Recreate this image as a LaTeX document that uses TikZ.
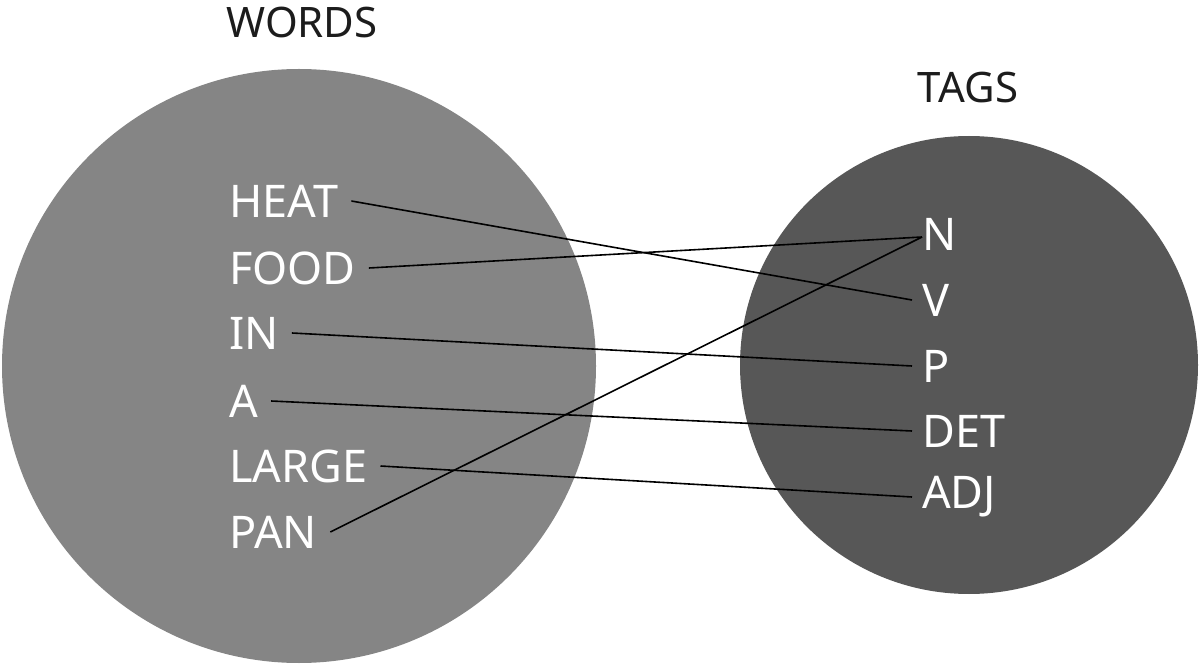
\documentclass[tikz,border=0pt]{standalone}
\usepackage{fontspec}
\setmainfont{Noto Sans}
\definecolor{leftgray}{HTML}{858585}
\definecolor{rightgray}{HTML}{575757}
\definecolor{titleink}{HTML}{1C1C1C}
\begin{document}
\begin{tikzpicture}[x=1pt,y=-1pt,
  title/.style={font=\fontsize{42}{48}\selectfont, text=titleink, inner sep=0pt, anchor=center},
  word/.style={font=\fontsize{45}{50}\selectfont, text=white, inner ysep=0pt, inner xsep=13pt, anchor=west},
  tag/.style={font=\fontsize{45}{50}\selectfont, text=white, inner ysep=0pt, inner xsep=10pt, anchor=west},
  link/.style={draw=black, line width=1.6pt}]
\useasboundingbox (0,0) rectangle (1200,668);
\fill[leftgray] (299,366) circle[radius=297pt];
\fill[rightgray] (969,365) circle[radius=229pt];
\node[title] (words) at (302,22) {WORDS};
\node[title] (tags) at (968,88) {TAGS};
\node[word] (heat) at (216,201) {HEAT};
\node[word] (food) at (216,268) {FOOD};
\node[word] (in) at (216,333) {IN};
\node[word] (a) at (216,401) {A};
\node[word] (large) at (216,466) {LARGE};
\node[word] (pan) at (216,532) {PAN};
\node[tag] (n) at (912,234) {N};
\node[tag] (v) at (912,300) {V};
\node[tag] (p) at (912,366) {P};
\node[tag] (det) at (912,431) {DET};
\node[tag] (adj) at (912,497) {ADJ};
\draw[link] (heat.east) -- (v.west);
\draw[link] (food.east) -- ([xshift=10pt,yshift=-3pt]n.west);
\draw[link] (pan.east) -- ([xshift=10pt,yshift=-3pt]n.west);
\draw[link] (in.east) -- (p.west);
\draw[link] (a.east) -- (det.west);
\draw[link] (large.east) -- (adj.west);
\end{tikzpicture}
\end{document}
